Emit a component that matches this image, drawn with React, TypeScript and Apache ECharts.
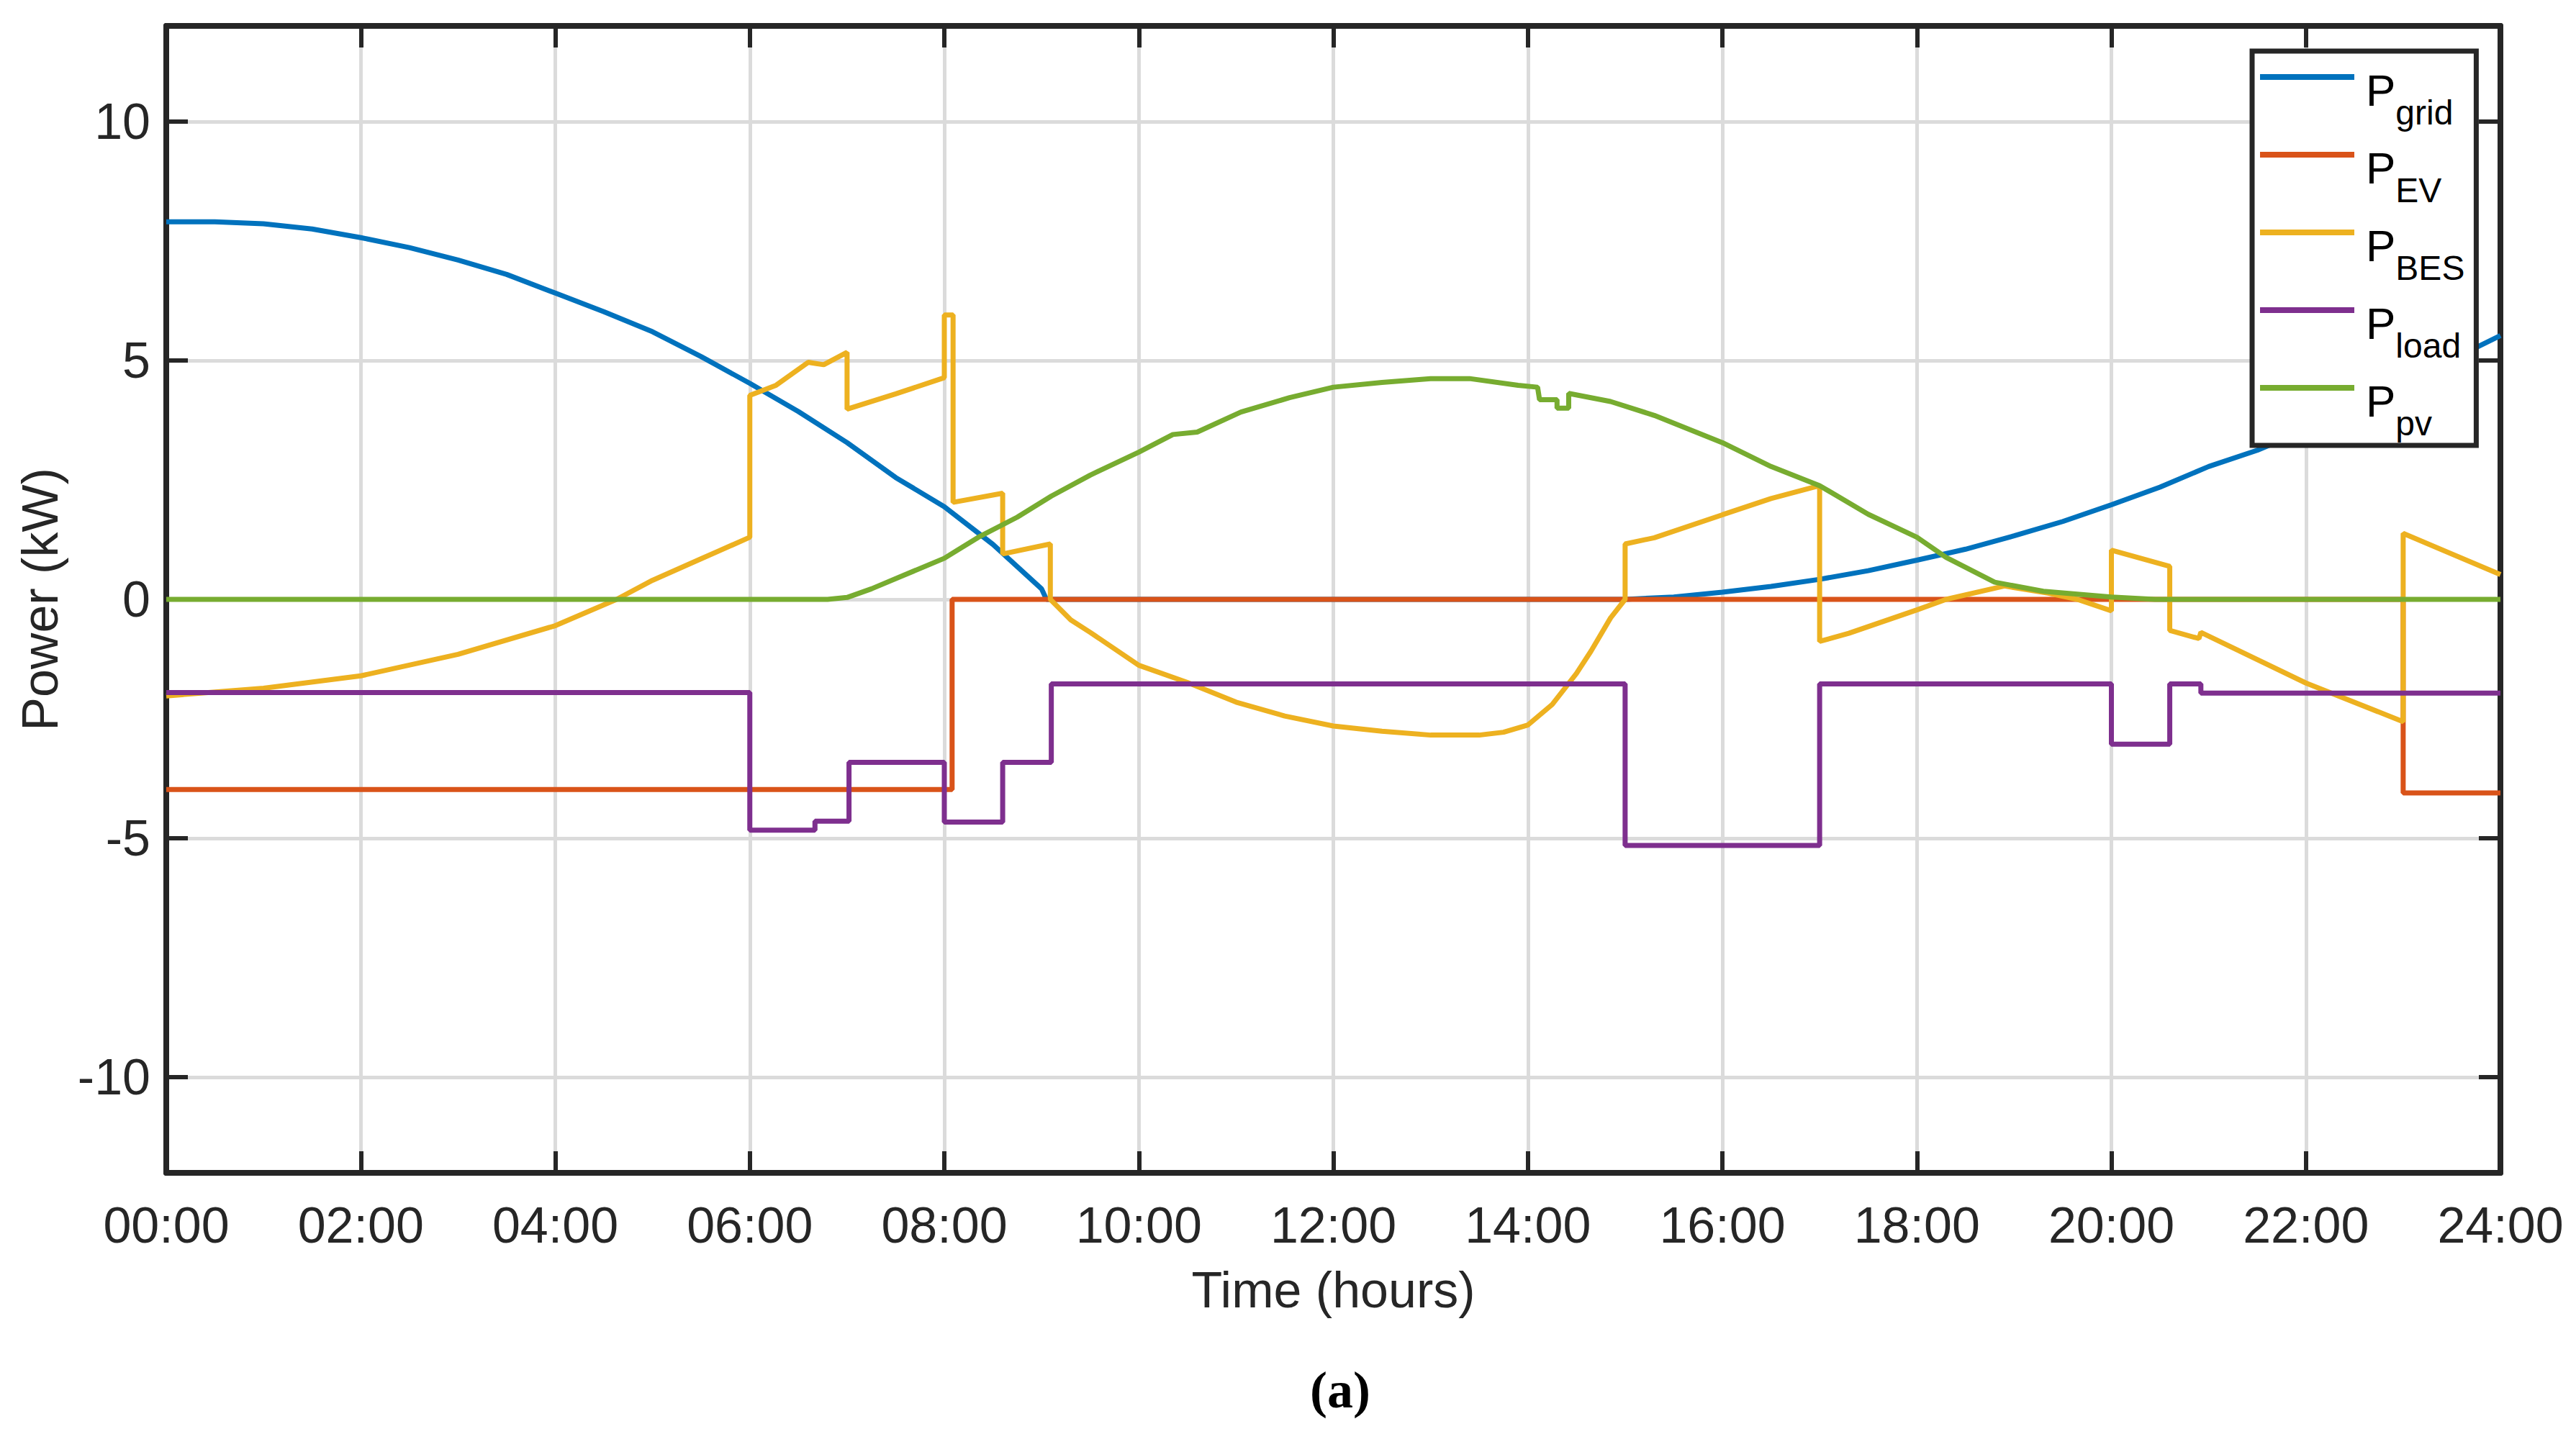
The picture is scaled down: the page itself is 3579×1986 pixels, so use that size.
import React, { useEffect, useRef } from 'react';
import * as echarts from 'echarts';

// ---------- data ----------
const xTickLabels = ['00:00', '02:00', '04:00', '06:00', '08:00', '10:00', '12:00', '14:00', '16:00', '18:00', '20:00', '22:00', '24:00'];
const seriesNames = ['Pgrid', 'PEV', 'PBES', 'Pload', 'Ppv'];
const legendSubscripts = ['grid', 'EV', 'BES', 'load', 'pv'];
const seriesColors = ['#0072BD', '#D95319', '#EDB120', '#7E2F8E', '#77AC30'];

// [hour, kW]
const pGrid: [number, number][] = [
  [0, 7.9], [0.5, 7.9], [1, 7.86], [1.5, 7.75], [2, 7.57], [2.5, 7.36], [3, 7.1], [3.5, 6.8], [4, 6.41],
  [4.5, 6.02], [5, 5.6], [5.5, 5.08], [6, 4.52], [6.5, 3.93], [7, 3.28], [7.5, 2.55], [8, 1.94], [8.5, 1.15],
  [9, 0.22], [9.05, 0], [15, 0], [15.5, 0.05], [16, 0.15], [16.5, 0.27], [17, 0.42], [17.5, 0.6], [18, 0.82],
  [18.5, 1.05], [19, 1.33], [19.5, 1.63], [20, 1.98], [20.5, 2.35], [21, 2.78], [21.5, 3.12], [22, 3.55],
  [22.5, 4.05], [23, 4.55], [23.5, 5.02], [24, 5.52],
];
const pEV: [number, number][] = [
  [0, -3.98], [8.08, -3.98], [8.08, 0], [23, 0], [23, -4.05], [24, -4.05],
];
const pBES: [number, number][] = [
  [0, -2.02], [1, -1.86], [2, -1.6], [3, -1.15], [4, -0.55], [4.63, 0], [5, 0.4], [5.5, 0.85], [6, 1.3],
  [6, 4.27], [6.27, 4.48], [6.6, 4.96], [6.76, 4.91], [7, 5.17], [7, 3.98], [7.5, 4.3], [8, 4.64], [8, 5.95],
  [8.09, 5.95], [8.09, 2.03], [8.6, 2.22], [8.6, 0.95], [9.09, 1.16], [9.09, 0], [9.3, -0.43], [9.5, -0.69],
  [10, -1.38], [10.5, -1.74], [11, -2.15], [11.5, -2.44], [12, -2.65], [12.5, -2.76], [13, -2.84], [13.5, -2.84],
  [13.75, -2.78], [14, -2.63], [14.25, -2.2], [14.5, -1.55], [14.65, -1.08], [14.85, -0.39], [15, 0], [15, 1.16],
  [15.3, 1.29], [16, 1.77], [16.5, 2.11], [17, 2.38], [17, -0.88], [17.3, -0.71], [18, -0.22], [18.3, 0],
  [18.9, 0.28], [19.35, 0.13], [19.65, 0], [20, -0.24], [20, 1.03], [20.6, 0.69], [20.6, -0.65], [20.9, -0.82],
  [20.92, -0.69], [22, -1.75], [23, -2.56], [23, 1.38], [24, 0.52],
];
const pLoad: [number, number][] = [
  [0, -1.95], [6, -1.95], [6, -4.83], [6.67, -4.83], [6.67, -4.64], [7.02, -4.64], [7.02, -3.41], [8, -3.41],
  [8, -4.66], [8.6, -4.66], [8.6, -3.41], [9.1, -3.41], [9.1, -1.77], [15, -1.77], [15, -5.15], [17, -5.15],
  [17, -1.77], [20, -1.77], [20, -3.03], [20.6, -3.03], [20.6, -1.77], [20.92, -1.77], [20.92, -1.96], [24, -1.96],
];
const pPV: [number, number][] = [
  [0, 0], [6.8, 0], [7, 0.04], [7.25, 0.22], [7.6, 0.52], [8, 0.86], [8.35, 1.3], [8.75, 1.72], [9.1, 2.16],
  [9.5, 2.6], [10, 3.08], [10.35, 3.45], [10.6, 3.5], [11.05, 3.92], [11.55, 4.22], [12, 4.44], [12.5, 4.54],
  [13, 4.62], [13.4, 4.62], [13.9, 4.48], [14.1, 4.44], [14.12, 4.18], [14.3, 4.18], [14.3, 4.0], [14.42, 4.0],
  [14.42, 4.31], [14.85, 4.14], [15.3, 3.85], [16, 3.28], [16.5, 2.78], [17, 2.38], [17.5, 1.78], [18, 1.3],
  [18.3, 0.88], [18.8, 0.36], [19.3, 0.17], [20, 0.05], [20.45, 0], [24, 0],
];
const seriesData = [pGrid, pEV, pBES, pLoad, pPV];

// ---------- styles ----------
const FONT = '"Liberation Sans", Arial, Helvetica, sans-serif';
const TEXT = '#262626';
const AXIS_W = 8;
const TICK_W = 6;
const TICK_LEN = 30;
const GRID_COLOR = '#dbdbdb';

export default function App() {
  const ref = useRef<HTMLDivElement>(null);

  useEffect(() => {
    document.body.style.margin = '0';
    document.body.style.overflow = 'hidden';
    const chart = echarts.init(ref.current!, null, { renderer: 'svg' });

    const axisLine = { show: true, onZero: false, lineStyle: { color: TEXT, width: AXIS_W } };
    const axisTick = { show: true, inside: true, length: TICK_LEN, lineStyle: { color: TEXT, width: TICK_W } };

    const option: any = {
      animation: false,
      backgroundColor: '#ffffff',
      grid: { left: 231, right: 105, top: 36, bottom: 356, containLabel: false, outerBoundsMode: 'none' },
      xAxis: [
        {
          type: 'value', min: 0, max: 24, interval: 2, position: 'bottom',
          axisLine, axisTick,
          axisLabel: {
            margin: 38, fontSize: 70, color: TEXT, fontFamily: FONT,
            formatter: (v: number) => xTickLabels[Math.round(v / 2)] ?? '',
          },
          splitLine: { show: true, lineStyle: { color: GRID_COLOR, width: 5 } },
          name: 'Time (hours)', nameLocation: 'middle', nameGap: 128,
          nameTextStyle: { fontSize: 70, color: TEXT, fontFamily: FONT },
        },
        {
          type: 'value', min: 0, max: 24, interval: 2, position: 'top',
          axisLine, axisTick, axisLabel: { show: false }, splitLine: { show: false },
        },
      ],
      yAxis: [
        {
          type: 'value', min: -12, max: 12, splitNumber: 5, position: 'left',
          axisLine, axisTick,
          axisLabel: {
            margin: 22, fontSize: 70, color: TEXT, fontFamily: FONT,
            showMinLabel: false, showMaxLabel: false,
            formatter: (v: number) => (v % 5 === 0 ? String(v) : ''),
          },
          splitLine: { show: true, lineStyle: { color: GRID_COLOR, width: 5 } },
          name: 'Power (kW)', nameLocation: 'middle', nameGap: 140,
          nameTextStyle: { fontSize: 70, color: TEXT, fontFamily: FONT },
        },
        {
          type: 'value', min: -12, max: 12, splitNumber: 5, position: 'right',
          axisLine, axisTick, axisLabel: { show: false }, splitLine: { show: false },
        },
      ],
      legend: {
        orient: 'vertical',
        left: 3129, top: 71,
        padding: [5, 16, 7, 11],
        itemGap: 4,
        itemWidth: 131, itemHeight: 8,
        icon: 'rect',
        itemStyle: { borderWidth: 0 },
        backgroundColor: '#ffffff',
        borderColor: TEXT, borderWidth: 7, borderRadius: 0,
        data: seriesNames,
        formatter: (name: string) => `{p|P}{s|${legendSubscripts[seriesNames.indexOf(name)]}}`,
        textStyle: {
          color: '#000',
          rich: {
            p: { fontSize: 62, lineHeight: 62, verticalAlign: 'top', padding: [18, 0, 0, 11], fontFamily: FONT, color: '#000' },
            s: { fontSize: 48, lineHeight: 48, verticalAlign: 'top', padding: [56, 0, 0, 0], fontFamily: FONT, color: '#000' },
          },
        },
      },
      graphic: [
        {
          type: 'text', x: 1862, y: 1932,
          style: {
            text: '(a)', fontSize: 72, fontWeight: 'bold', fontFamily: '"Liberation Serif", "DejaVu Serif", serif',
            fill: '#000', align: 'center', verticalAlign: 'middle',
          },
        },
      ],
      series: seriesNames.map((name, i) => ({
        name,
        type: 'line',
        xAxisIndex: 0, yAxisIndex: 0,
        data: seriesData[i],
        showSymbol: false, symbol: 'none',
        lineStyle: { color: seriesColors[i], width: 7 },
        itemStyle: { color: seriesColors[i] },
        color: seriesColors[i],
        clip: true,
      })),
    };

    chart.setOption(option);
    return () => chart.dispose();
  }, []);

  return <div ref={ref} style={{ width: 3579, height: 1986 }} />;
}
